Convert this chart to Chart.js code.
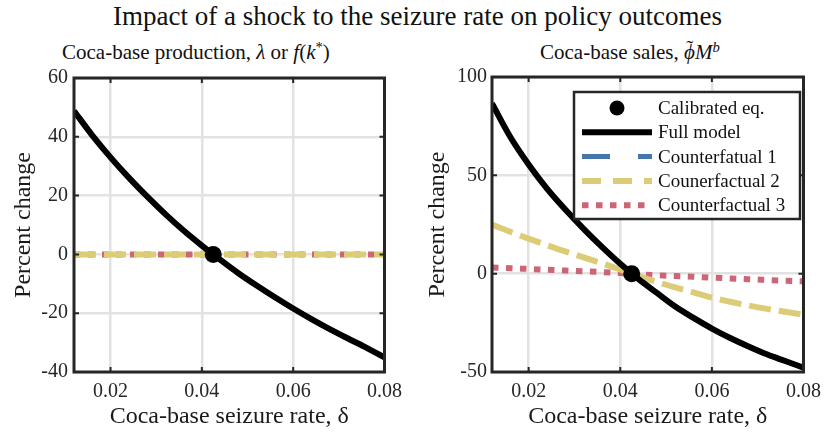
<!DOCTYPE html>
<html>
<head>
<meta charset="utf-8">
<script src="https://cdn.jsdelivr.net/npm/chart.js@4/dist/chart.umd.min.js"></script>
<style>
  body { margin: 0; background: #fff; width: 829px; height: 434px; overflow: hidden; position: relative;
         font-family: "Liberation Serif", "Times New Roman", serif; color: #111; }
  .t { position: absolute; white-space: nowrap; line-height: 1.15; }
  .t sup { font-size: 0.7em; vertical-align: 0.5em; line-height: 0; }
  .tl { position: relative; display: inline-block; }
  .tl .tilde { position: absolute; left: 0.1em; top: -0.2em; font-style: normal; }
  canvas { position: absolute; }
</style>
</head>
<body>
<div class="t" style="left:3px;width:829px;text-align:center;top:1px;font-size:27px">Impact of a shock to the seizure rate on policy outcomes</div>
<div class="t" style="left:62px;top:40px;font-size:21px">Coca-base production, <i>λ</i> or <i>f</i>(<i>k</i><sup>*</sup>)</div>
<div class="t" style="left:540px;top:40px;font-size:21px">Coca-base sales, <span class="tl"><i>ϕ</i><span class="tilde">˜</span></span><i>M</i><sup><i>b</i></sup></div>
<canvas id="left" width="410" height="374" style="left:0;top:60px"></canvas>
<canvas id="right" width="409" height="374" style="left:420px;top:60px"></canvas>
<script>
// values
const seizureRate = [0.012, 0.016, 0.020, 0.024, 0.028, 0.032, 0.036, 0.040, 0.044,
                     0.048, 0.052, 0.056, 0.060, 0.064, 0.068, 0.072, 0.076, 0.080];
const calibRate = [0.0425];
const calibChange = [0];

const prodFull = [48.8, 40.5, 33.0, 26.1, 19.7, 13.7, 8.1, 3.0, -1.8,
                  -6.4, -10.6, -14.6, -18.4, -22.0, -25.4, -28.6, -31.7, -35.0];
const prodCf1  = [48.8, 40.5, 33.0, 26.1, 19.7, 13.7, 8.1, 3.0, -1.8,
                  -6.4, -10.6, -14.6, -18.4, -22.0, -25.4, -28.6, -31.7, -35.0];
const prodCf2  = [0, 0, 0, 0, 0, 0, 0, 0, 0, 0, 0, 0, 0, 0, 0, 0, 0, 0];
const prodCf3  = [0, 0, 0, 0, 0, 0, 0, 0, 0, 0, 0, 0, 0, 0, 0, 0, 0, 0];

const salesFull = [86.5, 69.5, 55.5, 43.2, 32.6, 22.8, 13.6, 5.0, -2.8,
                   -9.8, -16.7, -22.5, -27.9, -32.7, -37.0, -41.0, -44.4, -47.8];
const salesCf1  = [86.5, 69.5, 55.5, 43.2, 32.6, 22.8, 13.6, 5.0, -2.8,
                   -9.8, -16.7, -22.5, -27.9, -32.7, -37.0, -41.0, -44.4, -47.8];
const salesCf2  = [25.0, 21.3, 17.8, 14.5, 11.3, 8.3, 5.3, 2.1, -1.2,
                   -4.2, -7.0, -9.5, -12.2, -14.3, -16.2, -17.9, -19.4, -20.8];
const salesCf3  = [3.1, 2.8, 2.4, 2.0, 1.6, 1.2, 0.8, 0.3, -0.3,
                   -0.8, -1.2, -1.6, -2.0, -2.4, -2.8, -3.2, -3.6, -3.9];

const xTicks = [0.02, 0.04, 0.06, 0.08];
const prodTicks = [-40, -20, 0, 20, 40, 60];
const salesTicks = [-50, 0, 50, 100];

const seriesNames = ['Calibrated eq.', 'Full model', 'Counterfatual 1', 'Counerfactual 2', 'Counterfactual 3'];

const FONT = '"Liberation Serif", "Times New Roman", serif';
const pts = (ys) => seizureRate.map((x, i) => ({ x: x, y: ys[i] }));

// axes box with inward ticks, drawn over the lines like MATLAB
const frame = {
  id: 'frame',
  afterDatasetsDraw(chart) {
    const { ctx, chartArea: a, scales: { x, y } } = chart;
    ctx.save();
    ctx.strokeStyle = '#262626';
    ctx.lineWidth = 2;
    ctx.beginPath();
    x.ticks.forEach(t => {
      const px = x.getPixelForValue(t.value);
      ctx.moveTo(px, a.bottom); ctx.lineTo(px, a.bottom - 5);
      ctx.moveTo(px, a.top); ctx.lineTo(px, a.top + 5);
    });
    y.ticks.forEach(t => {
      const py = y.getPixelForValue(t.value);
      ctx.moveTo(a.left, py); ctx.lineTo(a.left + 5, py);
      ctx.moveTo(a.right, py); ctx.lineTo(a.right - 5, py);
    });
    ctx.stroke();
    ctx.lineWidth = 3;
    ctx.strokeRect(a.left, a.top, a.right - a.left, a.bottom - a.top);
    ctx.restore();
  }
};

// boxed legend inside the plot, styles taken from the datasets
const boxLegend = {
  id: 'boxLegend',
  afterDraw(chart, args, o) {
    if (!o.show) return;
    const ctx = chart.ctx;
    ctx.save();
    ctx.fillStyle = '#fff';
    ctx.fillRect(o.left, o.top, o.width, o.height);
    ctx.strokeStyle = '#262626';
    ctx.lineWidth = 2.5;
    ctx.strokeRect(o.left, o.top, o.width, o.height);
    ctx.font = '19px ' + FONT;
    ctx.textBaseline = 'middle';
    chart.data.datasets.forEach((ds, i) => {
      const cy = o.top + o.firstRow + i * o.rowGap;
      if (ds.showLine === false) {
        ctx.fillStyle = ds.backgroundColor;
        ctx.beginPath();
        ctx.arc((o.lineFrom + o.lineTo) / 2, cy, 7.5, 0, Math.PI * 2);
        ctx.fill();
      } else {
        ctx.strokeStyle = ds.borderColor;
        ctx.lineWidth = ds.borderWidth;
        ctx.setLineDash(ds.legendDash || ds.borderDash || []);
        ctx.beginPath();
        ctx.moveTo(o.lineFrom, cy);
        ctx.lineTo(o.lineTo, cy);
        ctx.stroke();
        ctx.setLineDash([]);
      }
      ctx.fillStyle = '#111';
      ctx.fillText(ds.label, o.textX, cy + 1);
    });
    ctx.restore();
  }
};

function makeChart(id, full, cf1, cf2, cf3, yTicks, yWidth, titlePad, tickPad, legend) {
  return new Chart(document.getElementById(id), {
    type: 'scatter',
    data: {
      datasets: [
        { label: seriesNames[0], data: calibRate.map((x, i) => ({ x: x, y: calibChange[i] })),
          showLine: false, pointRadius: 8.5, pointHoverRadius: 8.5,
          backgroundColor: '#000', borderColor: '#000', borderWidth: 0 },
        { label: seriesNames[1], data: pts(full), showLine: true, pointRadius: 0,
          borderColor: '#000', borderWidth: 6, cubicInterpolationMode: 'monotone' },
        { label: seriesNames[2], data: pts(cf1), showLine: true, pointRadius: 0,
          borderColor: '#4477AA', borderWidth: 5, borderDash: [28, 28], cubicInterpolationMode: 'monotone' },
        { label: seriesNames[3], data: pts(cf2), showLine: true, pointRadius: 0,
          borderColor: '#DDCC77', borderWidth: 6, borderDash: [22, 8], legendDash: [19, 12],
          cubicInterpolationMode: 'monotone' },
        { label: seriesNames[4], data: pts(cf3), showLine: true, pointRadius: 0,
          borderColor: '#CC6677', borderWidth: 6, borderDash: [6.5, 7.5], cubicInterpolationMode: 'monotone' }
      ]
    },
    options: {
      responsive: false,
      animation: false,
      events: [],
      layout: { autoPadding: false, padding: { top: 15, right: 18, left: 0, bottom: 0 } },
      plugins: {
        legend: { display: false },
        tooltip: { enabled: false },
        boxLegend: legend
      },
      scales: {
        x: {
          type: 'linear', min: 0.012, max: 0.08,
          afterBuildTicks: s => { s.ticks = xTicks.map(v => ({ value: v })); },
          afterFit: s => { s.height = 62; },
          grid: { color: '#e2e2e2', lineWidth: 2.5, drawTicks: false },
          border: { display: false },
          ticks: { padding: 8, color: '#262626', font: { family: FONT, size: 20 },
                   callback: v => v.toFixed(2) },
          title: { display: true, text: 'Coca-base seizure rate, δ', color: '#1a1a1a',
                   font: { family: FONT, size: 24 }, padding: { top: 0, bottom: 3 } }
        },
        y: {
          min: yTicks[0], max: yTicks[yTicks.length - 1],
          afterBuildTicks: s => { s.ticks = yTicks.map(v => ({ value: v })); },
          afterFit: s => { s.width = yWidth; },
          grid: { color: '#e2e2e2', lineWidth: 2.5, drawTicks: false },
          border: { display: false },
          ticks: { padding: tickPad, color: '#262626', font: { family: FONT, size: 20 },
                   callback: v => String(v) },
          title: { display: true, text: 'Percent change', color: '#1a1a1a',
                   font: { family: FONT, size: 24 }, padding: { top: titlePad, bottom: 0 } }
        }
      }
    },
    plugins: [frame, boxLegend]
  });
}

makeChart('left', prodFull, prodCf1, prodCf2, prodCf3, prodTicks, 74, 9, 6, { show: false });
makeChart('right', salesFull, salesCf1, salesCf2, salesCf3, salesTicks, 72, 3, 5,
  { show: true, left: 154, top: 32, width: 226, height: 127, firstRow: 16, rowGap: 24.3,
    lineFrom: 162, lineTo: 232, textX: 238 });
</script>
</body>
</html>
